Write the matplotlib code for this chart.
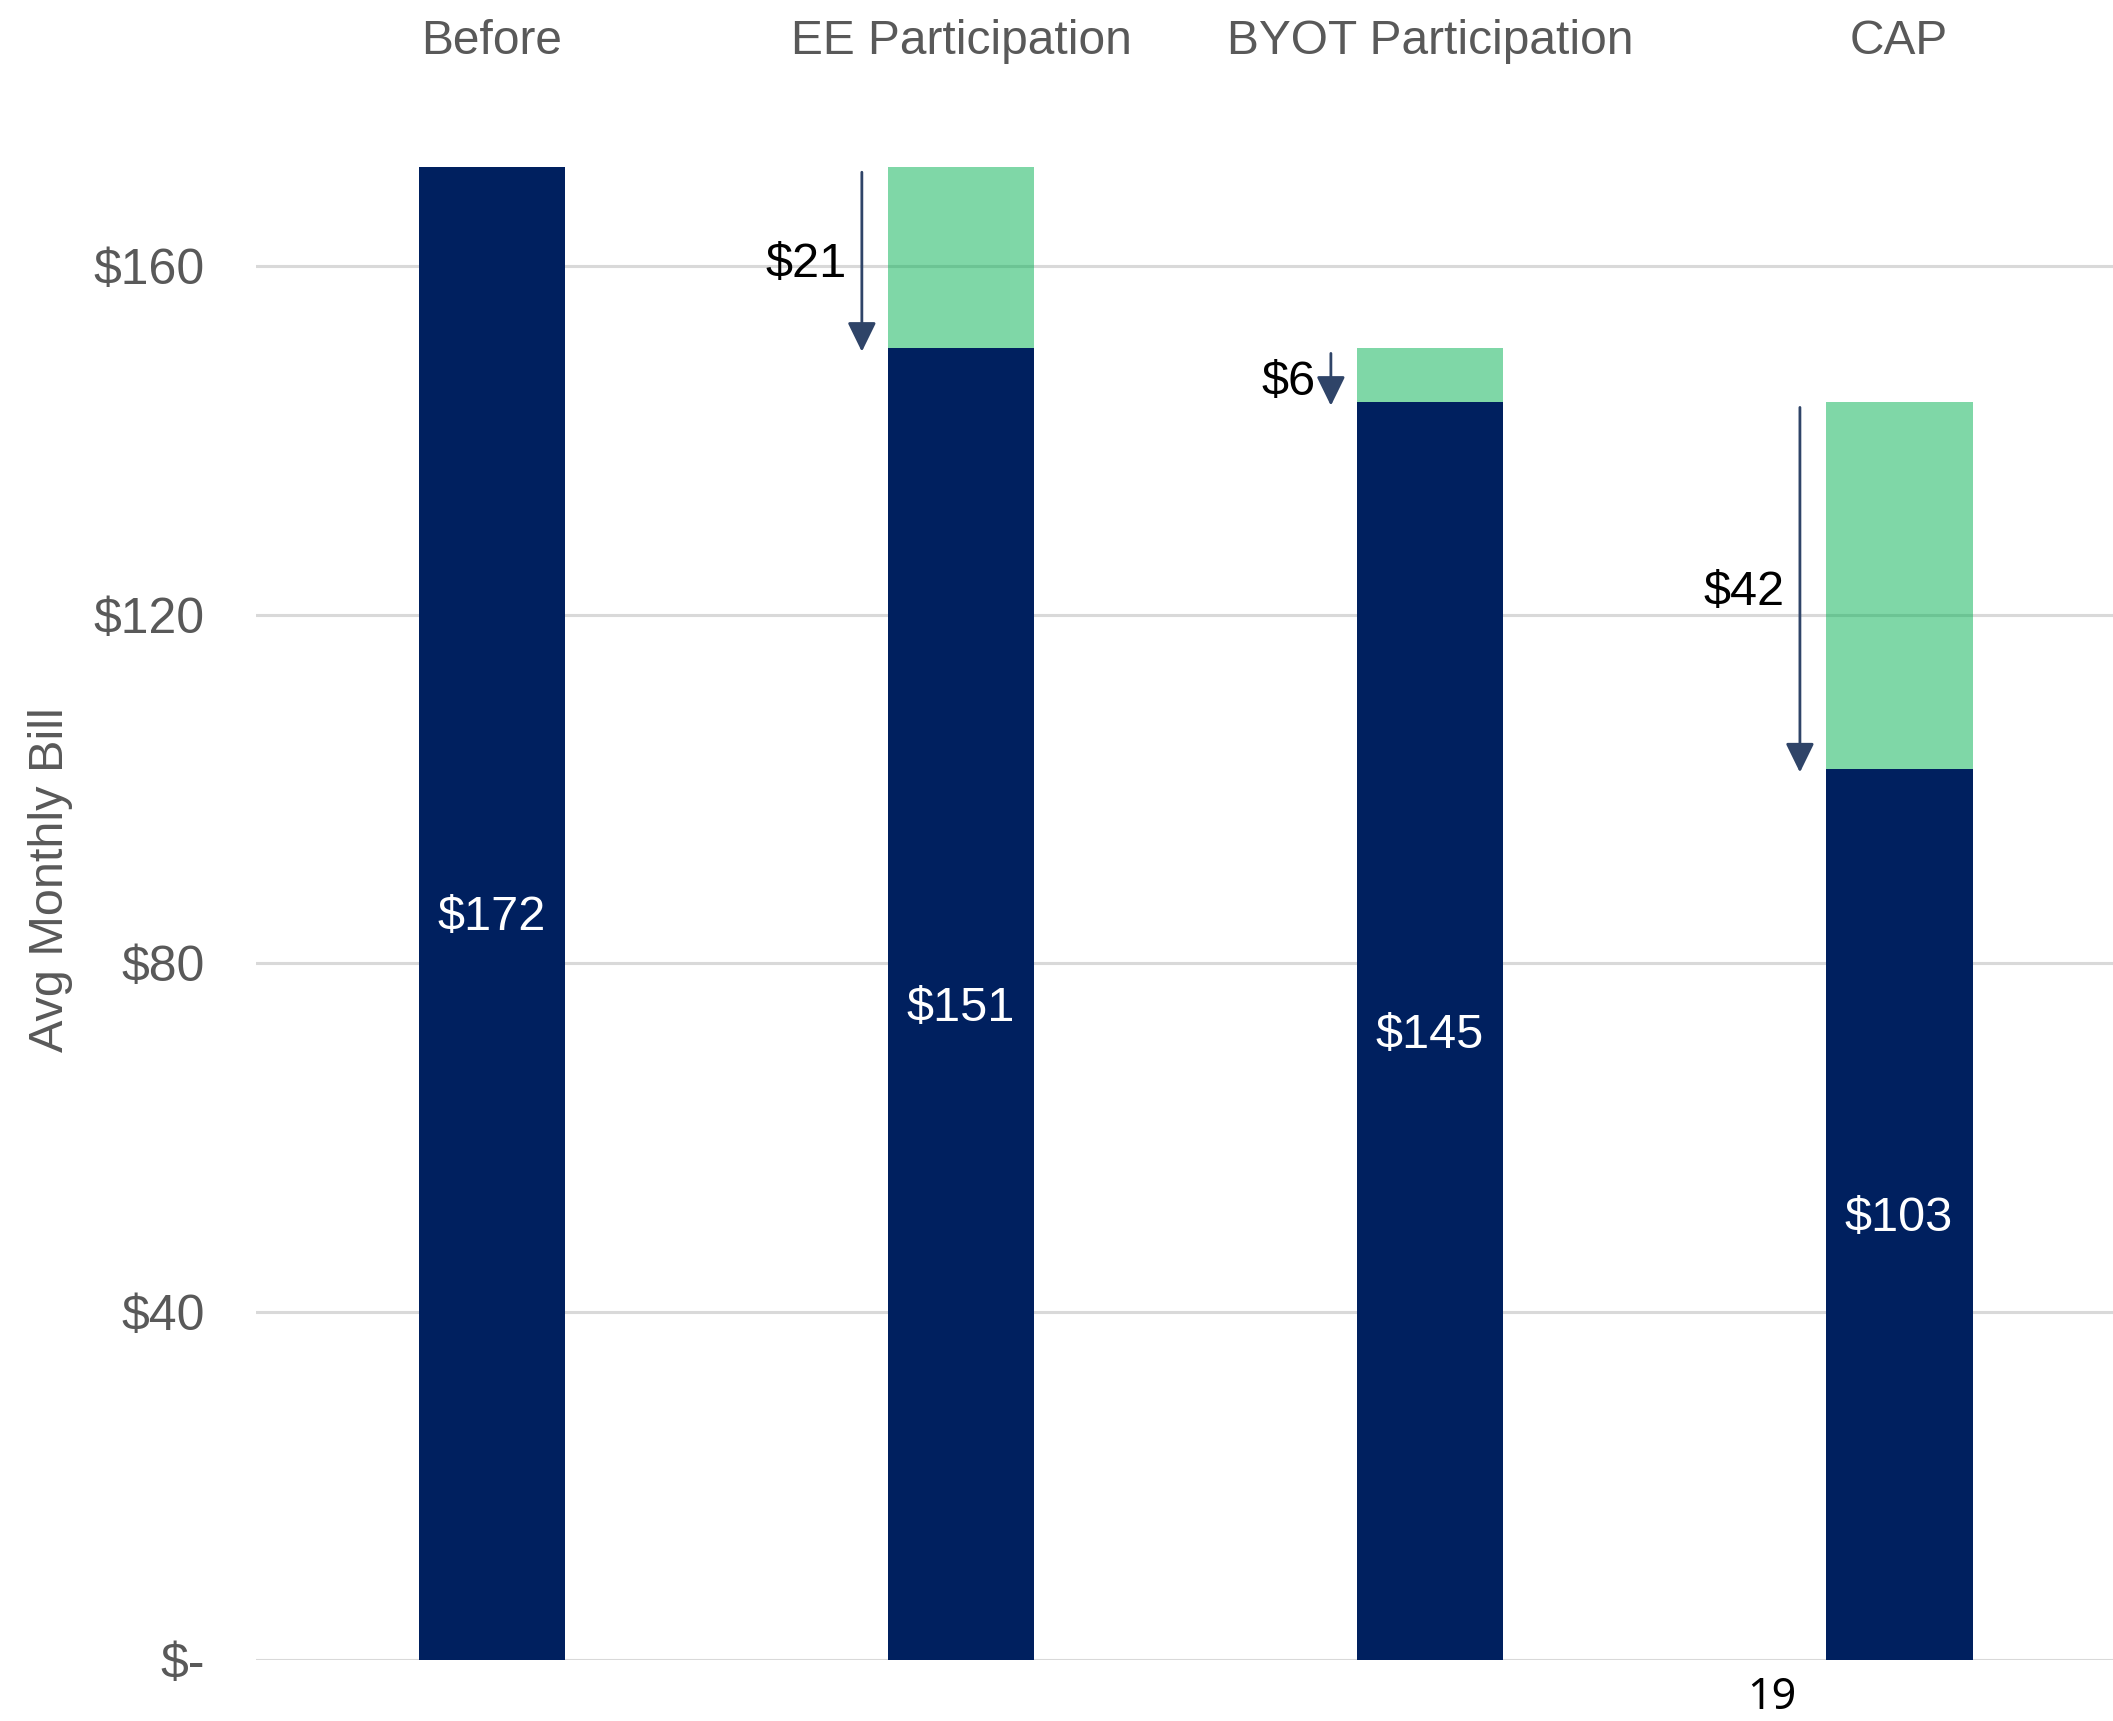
import numpy as np
import matplotlib
matplotlib.use('Agg')
import matplotlib.pyplot as plt

# avg monthly bill by stage
stages = ['Before', 'EE Participation', 'BYOT Participation', 'CAP']
bill = [171.4, 150.6, 144.4, 102.3]     # remaining bill (navy)
savings = [0, 20.8, 6.2, 42.1]          # drop from previous stage (green)
bill_labels = ['$172', '$151', '$145', '$103']
saving_labels = ['', '$21', '$6', '$42']
yticks = [0, 40, 80, 120, 160]
ytick_labels = ['$-', '$40', '$80', '$120', '$160']

plt.rcParams['font.family'] = ['Liberation Sans', 'DejaVu Sans']

navy = '#00205F'
green = '#00B050'
grey = '#595959'
arrow_col = '#2F4468'
w = 0.313

fig = plt.figure(figsize=(21.13, 17.21), dpi=100)
ax = fig.add_axes([0.1212, 0.0354, 0.8788, 0.9111])

x = np.arange(len(stages))
ax.bar(x, bill, width=w, color=navy, zorder=2)
ax.bar(x, savings, bottom=bill, width=w, color=green, alpha=0.5, zorder=2)

for i in range(len(stages)):
    ax.text(x[i], bill[i] / 2 - 0.5, bill_labels[i], ha='center', va='center',
            color='white', fontsize=35, zorder=3)
    ax.text(x[i], 1.0242, stages[i], transform=ax.get_xaxis_transform(),
            ha='center', va='baseline', color=grey, fontsize=34.5)
    if savings[i] > 0:
        top = bill[i] + savings[i]
        xa = x[i] - w / 2 - 0.055
        ax.annotate('', xy=(xa, bill[i] - 0.4), xytext=(xa, top - 0.6),
                    arrowprops=dict(arrowstyle='-|>,head_length=0.45,head_width=0.22',
                                    color=arrow_col, lw=2, mutation_scale=40,
                                    shrinkA=0, shrinkB=0), zorder=3)
        ax.text(xa - 0.032, bill[i] + savings[i] / 2 - 0.8, saving_labels[i],
                ha='right', va='center', color='black', fontsize=35)

ax.set_ylim(0, 180)
ax.set_xlim(-0.503, 3.456)
ax.set_yticks(yticks)
ax.set_yticklabels(ytick_labels)
ax.set_xticks([])
ax.tick_params(axis='y', length=0, pad=37, labelsize=36, labelcolor=grey)
ax.yaxis.grid(True, color='#D9D9D9', linewidth=2.2, zorder=0)
ax.set_axisbelow(True)
for s in ax.spines.values():
    s.set_visible(False)

fig.text(0.0238, 0.489, 'Avg Monthly Bill', rotation=90, ha='center', va='center',
         color=grey, fontsize=35)
fig.text(0.8386, 0.0135, '19', ha='center', va='center', color='black',
         fontsize=31, family=['Noto Sans', 'DejaVu Sans'])

fig.savefig('out.png', dpi=100)
